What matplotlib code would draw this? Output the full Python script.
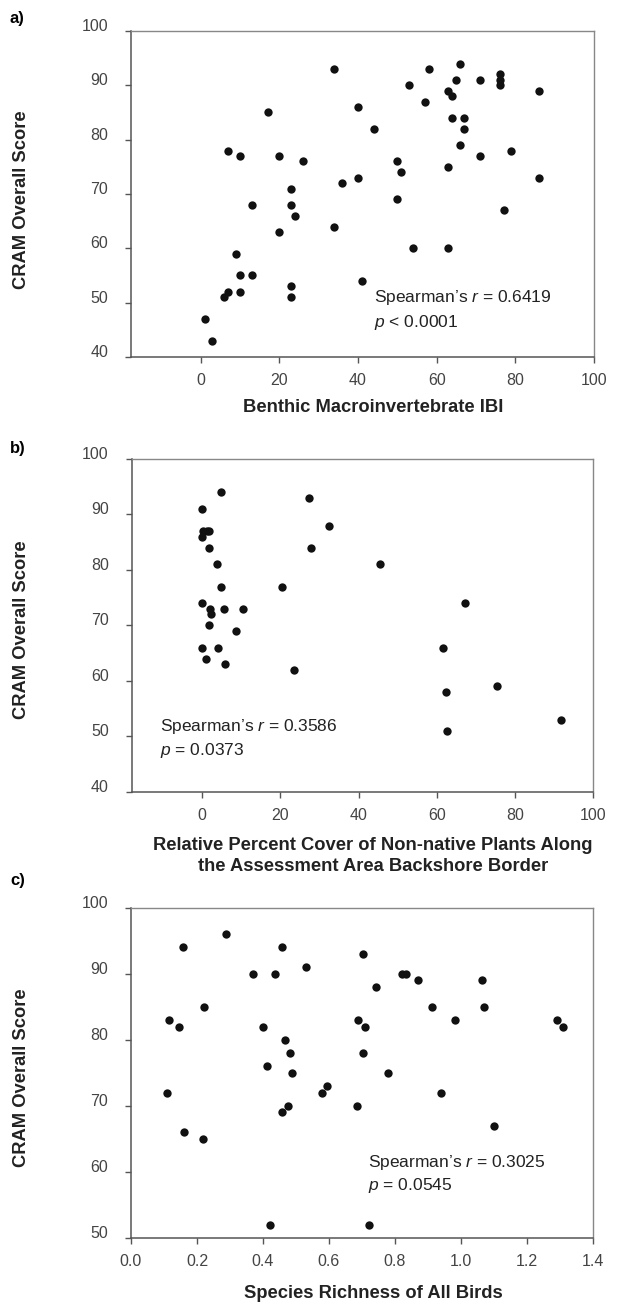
import matplotlib
matplotlib.use("Agg")
import matplotlib.pyplot as plt
import matplotlib.transforms as mtransforms

plt.rcParams['font.family'] = ['Liberation Sans', 'DejaVu Sans']
plt.rcParams['mathtext.fontset'] = 'custom'
plt.rcParams['mathtext.rm'] = 'Liberation Sans'
plt.rcParams['mathtext.it'] = 'Liberation Sans:italic'

# panel a: benthic macroinvertebrate IBI vs CRAM score
ibi_x = [34, 58, 66, 65, 71, 76, 76, 76, 53, 86, 63, 64, 57, 40, 17, 64, 67, 44, 67, 66,
         7, 79, 10, 20, 71, 26, 50, 51, 63, 40, 86, 36, 23, 50, 13, 23, 24, 77, 20, 34,
         54, 63, 9, 10, 13, 41, 23, 7, 10, 6, 23, 1, 3]
ibi_y = [93, 93, 94, 91, 91, 92, 91, 90, 90, 89, 89, 88, 87, 86, 85, 84, 84, 82, 82, 79,
         78, 78, 77, 77, 77, 76, 76, 74, 75, 73, 73, 72, 71, 69, 68, 68, 66, 67, 63, 64,
         60, 60, 59, 55, 55, 54, 53, 52, 52, 51, 51, 47, 43]

# panel b: relative percent cover of non-native plants vs CRAM score
plants_x = [4.9, 27.4, 0, 32.3, 0.3, 1.1, 1.8, 0, 1.6, 27.7, 3.8, 45.4, 4.9, 20.5, 0, 67.3,
            2.0, 5.5, 10.5, 2.3, 1.7, 8.7, 0, 3.9, 61.6, 0.9, 5.8, 23.4, 75.3, 62.4, 91.7, 62.7]
plants_y = [94, 93, 91, 88, 87, 87, 87, 86, 84, 84, 81, 81, 77, 77, 74, 74,
            73, 73, 73, 72, 70, 69, 66, 66, 66, 64, 63, 62, 59, 58, 53, 51]

# panel c: species richness of all birds vs CRAM score
birds_x = [0.287, 0.159, 0.457, 0.704, 0.529, 0.371, 0.436, 0.820, 0.833, 0.869, 1.065,
           0.743, 0.221, 0.913, 1.069, 0.116, 0.687, 0.982, 1.292, 0.146, 0.400, 0.710,
           1.310, 0.468, 0.481, 0.704, 0.412, 0.489, 0.780, 0.594, 0.580, 0.110, 0.940,
           0.475, 0.686, 0.457, 1.101, 0.160, 0.218, 0.420, 0.721]
birds_y = [96, 94, 94, 93, 91, 90, 90, 90, 90, 89, 89, 88, 85, 85, 85, 83, 83, 83, 83,
           82, 82, 82, 82, 80, 78, 78, 76, 75, 75, 73, 72, 72, 72, 70, 70, 69, 67, 66,
           65, 52, 52]

W, H = 617, 1305
fig = plt.figure(figsize=(W / 100, H / 100), dpi=100)


def make_axes(left, top, right, bottom):
    return fig.add_axes([left / W, 1 - bottom / H, (right - left) / W, (bottom - top) / H])


def style(ax):
    for side in ['left', 'bottom']:
        ax.spines[side].set_color('#555555')
        ax.spines[side].set_linewidth(1.1)
    for side in ['top', 'right']:
        ax.spines[side].set_color('#888888')
        ax.spines[side].set_linewidth(1.0)
    ax.tick_params(axis='both', direction='out', length=4.5, width=1.0, color='#555555',
                   labelsize=11.5, labelcolor='#444444')
    ax.tick_params(axis='y', pad=12)
    ax.tick_params(axis='x', pad=7)
    shift = mtransforms.ScaledTranslation(0, 6 / 100, fig.dpi_scale_trans)
    for lab in ax.get_yticklabels():
        lab.set_transform(lab.get_transform() + shift)


dot = dict(color='#111111', s=36, linewidths=0, zorder=3)
bold = dict(fontsize=13.2, fontweight='bold', color='#222222')
note = dict(fontsize=12.5, color='#222222', va='center', ha='left')

# a)
ax1 = make_axes(131, 31, 594, 357)
ax1.scatter(ibi_x, ibi_y, **dot)
ax1.set_xlim(-17.7, 100)
ax1.set_ylim(40, 100)
ax1.set_xticks(range(0, 101, 20))
ax1.set_yticks(range(40, 101, 10))
style(ax1)
ax1.text(44, 50.9, 'Spearman\u2019s $r$ = 0.6419', **note)
ax1.text(44, 46.4, '$p$ < 0.0001', **note)
fig.text(373 / W, 1 - 407 / H, 'Benthic Macroinvertebrate IBI', ha='center', va='center', **bold)
fig.text(22 / W, 1 - 200 / H, 'CRAM Overall Score', rotation=90, ha='center', va='center', **bold)
fig.text(10 / W, 1 - 19 / H, 'a)', ha='left', va='center', fontsize=12, fontweight='bold')

# b)
ax2 = make_axes(131.7, 459, 593.3, 791.7)
ax2.scatter(plants_x, plants_y, **dot)
ax2.set_xlim(-18.05, 100)
ax2.set_ylim(40, 100)
ax2.set_xticks(range(0, 101, 20))
ax2.set_yticks(range(40, 101, 10))
style(ax2)
ax2.text(-10.8, 51.7, 'Spearman\u2019s $r$ = 0.3586', **note)
ax2.text(-10.8, 47.4, '$p$ = 0.0373', **note)
fig.text(373 / W, 1 - 856 / H,
         'Relative Percent Cover of Non-native Plants Along\nthe Assessment Area Backshore Border',
         ha='center', va='center', linespacing=1.3, **bold)
fig.text(22 / W, 1 - 630 / H, 'CRAM Overall Score', rotation=90, ha='center', va='center', **bold)
fig.text(10 / W, 1 - 449 / H, 'b)', ha='left', va='center', fontsize=12, fontweight='bold')

# c)
ax3 = make_axes(131, 907.7, 593, 1238)
ax3.scatter(birds_x, birds_y, **dot)
ax3.set_xlim(0, 1.4)
ax3.set_ylim(50, 100)
ax3.set_xticks([0.0, 0.2, 0.4, 0.6, 0.8, 1.0, 1.2, 1.4])
ax3.set_xticklabels(['0.0', '0.2', '0.4', '0.6', '0.8', '1.0', '1.2', '1.4'])
ax3.set_yticks(range(50, 101, 10))
style(ax3)
ax3.text(0.718, 61.5, 'Spearman\u2019s $r$ = 0.3025', **note)
ax3.text(0.718, 58.0, '$p$ = 0.0545', **note)
fig.text(373 / W, 1 - 1293 / H, 'Species Richness of All Birds', ha='center', va='center', **bold)
fig.text(22 / W, 1 - 1078 / H, 'CRAM Overall Score', rotation=90, ha='center', va='center', **bold)
fig.text(10 / W, 1 - 880 / H, 'c)', ha='left', va='center', fontsize=12, fontweight='bold')

fig.savefig('out.png', dpi=100, facecolor='white')
